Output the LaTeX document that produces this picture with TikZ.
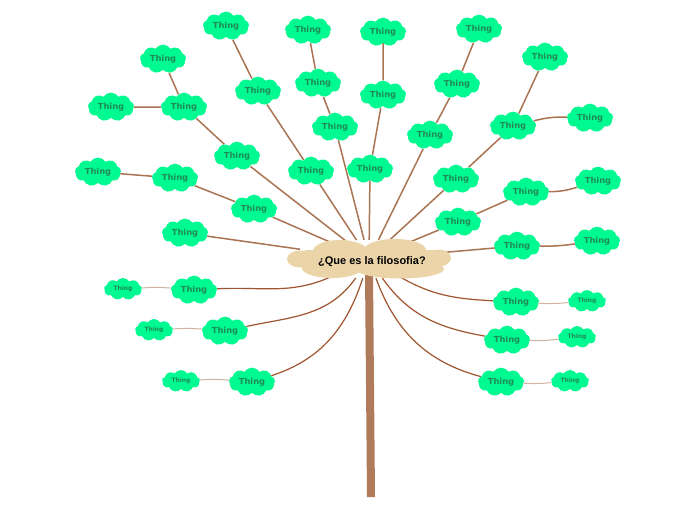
\documentclass[tikz,border=0pt]{standalone}
\usepackage{fontspec}
\setmainfont{DejaVu Sans}
\newfontfamily\hubfam{Liberation Sans}
\usetikzlibrary{shapes.symbols,shapes.geometric}
\pgfdeclarelayer{paper}
\pgfdeclarelayer{links}
\pgfsetlayers{paper,links,main}
\definecolor{thinggreen}{HTML}{00FA92}
\definecolor{thingtext}{HTML}{1F8A55}
\definecolor{hubtan}{HTML}{EBD5A8}
\definecolor{upbrown}{HTML}{AA7452}
\definecolor{lowbrown}{HTML}{A0552E}
\definecolor{twigcol}{HTML}{D2B49E}
\definecolor{trunkcol}{HTML}{B07B5B}
\tikzset{
 thing/.style={cloud, cloud puffs=9, cloud puff arc=115, aspect=1.6, fill=thinggreen, draw=none,
   minimum width=46pt, minimum height=28pt, inner sep=0pt, text=thingtext, font=\bfseries\fontsize{8.3}{9}\selectfont},
 smallthing/.style={thing, minimum width=38pt, minimum height=22pt, font=\bfseries\fontsize{6}{7}\selectfont},
 hub/.style={ellipse, draw=none, minimum width=160pt, minimum height=38pt, inner sep=0pt,
   font=\hubfam\bfseries\fontsize{11}{12}\selectfont},
 hubpart/.style={fill=hubtan},
 upline/.style={draw=upbrown, line width=1.5pt},
 lowline/.style={draw=lowbrown, line width=1.2pt},
 twig/.style={draw=twigcol, line width=1pt},
}
\begin{document}
\begin{tikzpicture}[x=1pt,y=-1pt]
\begin{pgfonlayer}{paper}
\fill[white] (0,0) rectangle (696,520);
\end{pgfonlayer}
\useasboundingbox (0,0) rectangle (696,520);
% hub shape
\fill[hubpart] (300,259) ellipse[x radius=13, y radius=8.5];
\fill[hubpart] (340,251) ellipse[x radius=27, y radius=11];
\fill[hubpart] (395,250) ellipse[x radius=31, y radius=11];
\fill[hubpart] (439,258) ellipse[x radius=12, y radius=8.5];
\fill[hubpart] (332,268) ellipse[x radius=30, y radius=10];
\fill[hubpart] (400,269) ellipse[x radius=44, y radius=9.5];
\fill[hubpart] (305,250) rectangle (440,268);
\node[hub] (c) at (369,259) {};
\node[font=\hubfam\bfseries\fontsize{11}{12}\selectfont, inner sep=0pt] (ct) at (372,262) {¿Que es la filosofia?};
% upper-left
\node[thing] (A) at (226,26) {Thing};
\node[thing] (B) at (308,30) {Thing};
\node[thing] (C) at (163,59) {Thing};
\node[thing] (D) at (258,91) {Thing};
\node[thing] (E) at (318,83) {Thing};
\node[thing] (F) at (111,107) {Thing};
\node[thing] (G) at (184,107) {Thing};
\node[thing] (H) at (335,127) {Thing};
\node[thing] (I) at (237,156) {Thing};
\node[thing] (J) at (311,171) {Thing};
\node[thing] (K) at (98,172) {Thing};
\node[thing] (L) at (175,178) {Thing};
\node[thing] (M) at (254,209) {Thing};
\node[thing] (N) at (185,233) {Thing};
% upper-right
\node[thing] (P) at (383,32) {Thing};
\node[thing] (Q) at (479,29) {Thing};
\node[thing] (R) at (545,57) {Thing};
\node[thing] (S) at (383,95) {Thing};
\node[thing] (T) at (457,84) {Thing};
\node[thing] (U) at (590,118) {Thing};
\node[thing] (V) at (513,126) {Thing};
\node[thing] (W) at (430,135) {Thing};
\node[thing] (X) at (370,169) {Thing};
\node[thing] (Y) at (456,179) {Thing};
\node[thing] (Z) at (598,181) {Thing};
\node[thing] (AA) at (526,192) {Thing};
\node[thing] (AB) at (458,222) {Thing};
\node[thing] (AC) at (597,241) {Thing};
\node[thing] (AD) at (517,246) {Thing};
% lower-left
\node[thing] (L1) at (194,290) {Thing};
\node[smallthing] (L1s) at (123,289) {Thing};
\node[thing] (L2) at (225,331) {Thing};
\node[smallthing] (L2s) at (154,330) {Thing};
\node[thing] (L3) at (252,382) {Thing};
\node[smallthing] (L3s) at (181,381) {Thing};
% lower-right
\node[thing] (R1) at (516,302) {Thing};
\node[smallthing] (R1s) at (587,301) {Thing};
\node[thing] (R2) at (507,340) {Thing};
\node[smallthing] (R2s) at (577,337) {Thing};
\node[thing] (R3) at (501,382) {Thing};
\node[smallthing] (R3s) at (570,381) {Thing};
\begin{pgfonlayer}{links}
\fill[trunkcol] (365,272) -- (373,272) -- (375,497) -- (367,497) -- cycle;
% upper straight lines
\draw[upline] (C) -- (G); \draw[upline] (F) -- (G); \draw[upline] (G) -- (I); \draw[upline] (I) -- (c);
\draw[upline] (A) -- (D); \draw[upline] (D) -- (J); \draw[upline] (J) -- (c);
\draw[upline] (B) -- (E); \draw[upline] (E) -- (H); \draw[upline] (H) -- (c);
\draw[upline] (K) -- (L); \draw[upline] (L) -- (M); \draw[upline] (M) -- (c);
\draw[upline] (N) -- (c);
\draw[upline] (P) -- (S); \draw[upline] (S) -- (X); \draw[upline] (X) -- (c);
\draw[upline] (Q) -- (T); \draw[upline] (T) -- (W); \draw[upline] (W) -- (c);
\draw[upline] (R) -- (V); \draw[upline] (V) -- (Y); \draw[upline] (Y) -- (c);
\draw[upline] (V) to[bend left=8] (U);
\draw[upline] (Z) to[bend left=8] (AA); \draw[upline] (AA) -- (AB); \draw[upline] (AB) -- (c);
\draw[upline] (AC) to[bend left=4] (AD); \draw[upline] (AD) -- (c);
% lower curves
\draw[lowline] (c) to[out=-155,in=3] (L1);
\draw[lowline] (c) to[out=-125,in=12] (L2);
\draw[lowline] (c) to[out=-108,in=18] (L3);
\draw[lowline] (c) to[out=-30,in=177] (R1);
\draw[lowline] (c) to[out=-55,in=170] (R2);
\draw[lowline] (c) to[out=-70,in=165] (R3);
\draw[twig] (L1) to[bend right=4] (L1s);
\draw[twig] (L2) to[bend right=4] (L2s);
\draw[twig] (L3) to[bend right=4] (L3s);
\draw[twig] (R1) to[bend right=4] (R1s);
\draw[twig] (R2) to[bend right=4] (R2s);
\draw[twig] (R3) to[bend right=4] (R3s);
\end{pgfonlayer}
\end{tikzpicture}
\end{document}
